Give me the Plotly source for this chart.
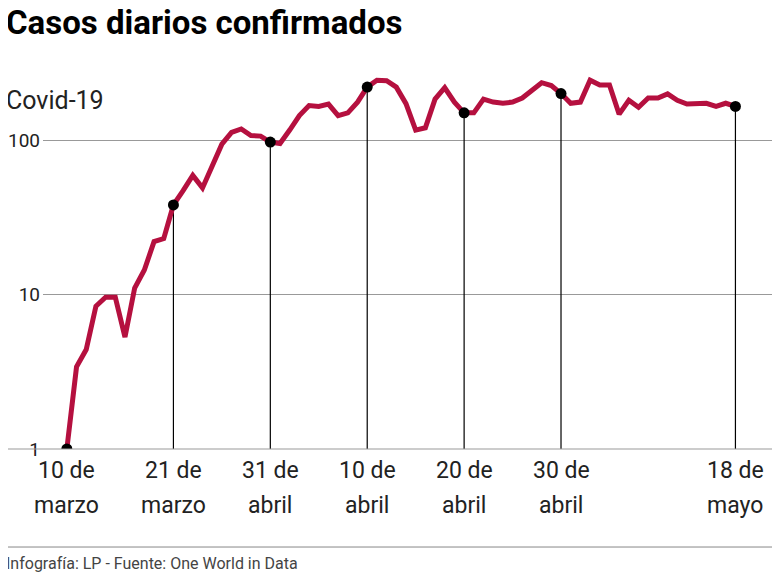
import plotly.graph_objects as go
import pandas as pd

start_date = "2020-03-10"
cases = [1, 3.4, 4.4, 8.4, 9.6, 9.6, 5.3, 11, 14.4, 22, 23, 38, 47, 59, 49, 69, 94, 112, 118, 107,
         106, 97, 95, 116, 144, 167, 165, 171, 144, 150, 176, 220, 244, 242, 220, 172, 116, 120, 184, 218,
         176, 150, 150, 184, 176, 173, 176, 187, 210, 235, 225, 200, 173, 176, 244, 227, 227, 147, 181, 163,
         187, 187, 199, 181, 171, 171, 173, 165, 173, 165]
dates = pd.date_range(start_date, periods=len(cases), freq="D")
marker_idx = [0, 11, 21, 31, 41, 51, 69]
tick_line1 = ["10 de", "21 de", "31 de", "10 de", "20 de", "30 de", "18 de"]
tick_line2 = ["marzo", "marzo", "abril", "abril", "abril", "abril", "mayo"]
y_ticks = [1, 10, 100]

FONT = "Roboto"
fig = go.Figure()
for i in marker_idx:
    fig.add_trace(go.Scatter(x=[dates[i], dates[i]], y=[1, cases[i]], mode="lines",
                             line=dict(color="black", width=1.2), hoverinfo="skip", showlegend=False))
fig.add_trace(go.Scatter(x=dates, y=cases, mode="lines", line=dict(color="#b5103f", width=5),
                         showlegend=False))
fig.add_trace(go.Scatter(x=[dates[i] for i in marker_idx], y=[cases[i] for i in marker_idx],
                         mode="markers", marker=dict(color="black", size=11), showlegend=False))

anns = []
for i, a, b in zip(marker_idx, tick_line1, tick_line2):
    for txt, sh in ((a, -21), (b, -56)):
        anns.append(dict(x=dates[i], y=0, xref="x", yref="paper", yanchor="middle", yshift=sh, text=txt,
                         showarrow=False, font=dict(family=FONT, size=23, color="#222")))
anns += [
    dict(text="<b>Casos diarios confirmados</b>", x=0, y=1, xref="paper", yref="paper",
         xanchor="left", yanchor="middle", showarrow=False, xshift=-39, yshift=38,
         font=dict(family=FONT, size=33, color="black")),
    dict(text="Covid-19", x=0, y=1, xref="paper", yref="paper", xanchor="left", yanchor="middle",
         showarrow=False, xshift=-39, yshift=-40, font=dict(family=FONT, size=25, color="#222")),
    dict(text="Infografía: LP - Fuente: One World in Data", x=0, y=0, xref="paper", yref="paper",
         xanchor="left", yanchor="middle", showarrow=False, xshift=-39, yshift=-114,
         font=dict(family=FONT, size=16, color="#444")),
]
fig.update_layout(
    width=772, height=567, paper_bgcolor="white", plot_bgcolor="white",
    margin=dict(l=30, r=0, t=52, b=126),
    xaxis=dict(range=[dates[0] - pd.Timedelta(days=2.46), dates[0] + pd.Timedelta(days=73.6)],
               showticklabels=False, showgrid=False, zeroline=False, showline=False),
    yaxis=dict(type="log", range=[0, 2.518], tickvals=y_ticks, ticktext=[str(v) for v in y_ticks],
               showgrid=True, gridcolor="#999", gridwidth=1, zeroline=False,
               tickfont=dict(family=FONT, size=19, color="#222"), ticks="", ticklabelstandoff=2),
    shapes=[dict(type="line", xref="paper", yref="paper", x0=-0.06, x1=1, y0=0, y1=0,
                 line=dict(color="#999", width=1)),
            dict(type="line", xref="paper", yref="paper", x0=-0.06, x1=1.0, y0=-0.252, y1=-0.252,
                 line=dict(color="#888", width=1))],
    annotations=anns,
)
fig.write_html("out.html")
